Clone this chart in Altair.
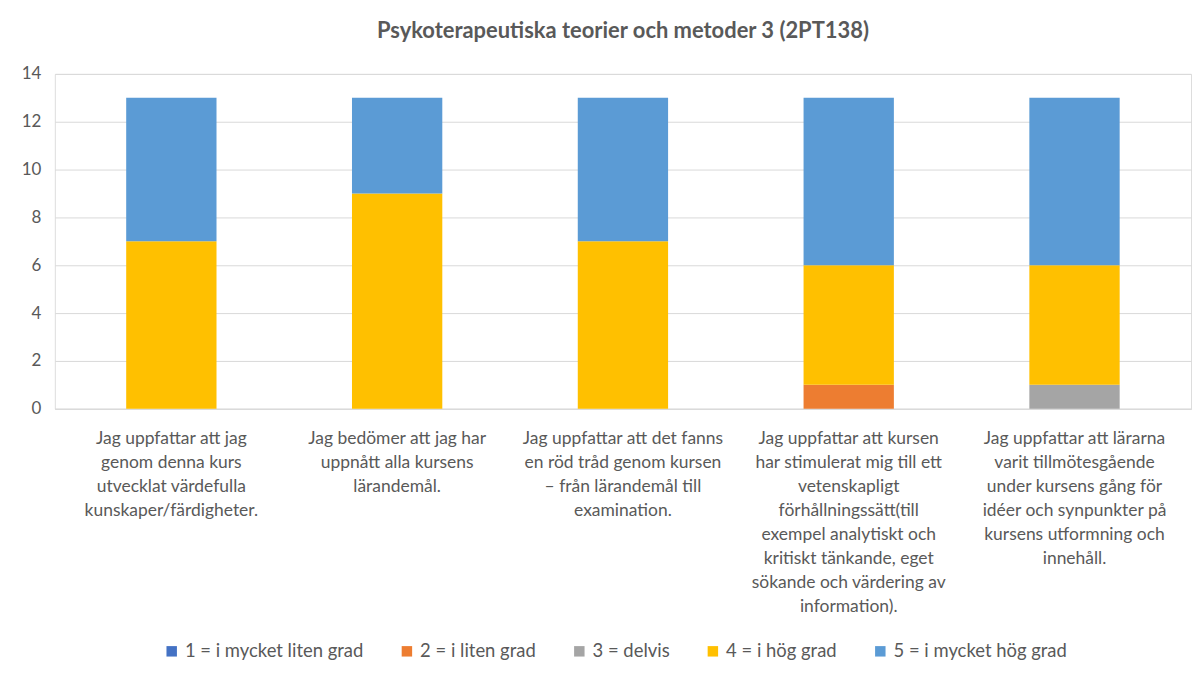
import altair as alt
import pandas as pd

categories = [
    "Jag uppfattar att jag|genom denna kurs|utvecklat värdefulla|kunskaper/färdigheter.",
    "Jag bedömer att jag har|uppnått alla kursens|lärandemål.",
    "Jag uppfattar att det fanns|en röd tråd genom kursen|– från lärandemål till|examination.",
    "Jag uppfattar att kursen|har stimulerat mig till ett|vetenskapligt|förhållningssätt(till|exempel analytiskt och|kritiskt tänkande, eget|sökande och värdering av|information).",
    "Jag uppfattar att lärarna|varit tillmötesgående|under kursens gång för|idéer och synpunkter på|kursens utformning och|innehåll.",
]
series_names = [
    "1 = i mycket liten grad",
    "2 = i liten grad",
    "3 = delvis",
    "4 = i hög grad",
    "5 = i mycket hög grad",
]
s1 = [0, 0, 0, 0, 0]
s2 = [0, 0, 0, 1, 0]
s3 = [0, 0, 0, 0, 1]
s4 = [7, 9, 7, 5, 5]
s5 = [6, 4, 6, 7, 7]
colors = ["#4472C4", "#ED7D31", "#A5A5A5", "#FFC000", "#5B9BD5"]

rows = []
for si, (name, vals) in enumerate(zip(series_names, [s1, s2, s3, s4, s5])):
    for c, v in zip(categories, vals):
        rows.append({"kategori": c, "serie": name, "ordning": si, "antal": v})
df = pd.DataFrame(rows)

FONT = "Lato"
GREY = "#595959"

chart = alt.Chart(df).mark_bar().encode(
    x=alt.X(
        "kategori:N",
        sort=categories,
        title=None,
        scale=alt.Scale(paddingInner=0.6, paddingOuter=0.316),
        axis=alt.Axis(
            labelAngle=0,
            labelAlign="center",
            labelBaseline="top",
            labelExpr="split(datum.label, '|')",
            labelLimit=300,
            labelOverlap=False,
            labelPadding=21,
            labelLineHeight=24,
            labelFontSize=17.5,
            labelFont=FONT,
            labelColor=GREY,
            ticks=False,
            domainColor="#D9D9D9",
            grid=False,
        ),
    ),
    y=alt.Y(
        "antal:Q",
        stack="zero",
        title=None,
        scale=alt.Scale(domain=[0, 14], nice=False),
        axis=alt.Axis(
            values=[0, 2, 4, 6, 8, 10, 12, 14],
            domain=False,
            ticks=False,
            gridColor="#D9D9D9",
            labelFont=FONT,
            labelFontSize=17,
            labelColor=GREY,
            labelPadding=14,
        ),
    ),
    color=alt.Color(
        "serie:N",
        scale=alt.Scale(domain=series_names, range=colors),
        sort=series_names,
        legend=alt.Legend(
            title=None,
            orient="none",
            legendX=108,
            legendY=570,
            direction="horizontal",
            symbolType="square",
            symbolSize=110,
            symbolStrokeWidth=0,
            labelFont=FONT,
            labelFontSize=18.5,
            labelColor=GREY,
            labelLimit=400,
            columnPadding=34,
        ),
    ),
    order=alt.Order("ordning:Q", sort="ascending"),
).properties(
    width=1140,
    height=336,
    padding={"left": 47, "top": 65, "right": 5, "bottom": 264},
    autosize=alt.AutoSizeParams(type="none"),
    title=alt.TitleParams(
        "Psykoterapeutiska teorier och metoder 3 (2PT138)",
        font=FONT,
        fontSize=22,
        fontWeight="bold",
        color=GREY,
        anchor="middle",
        offset=22,
    ),
).configure_view(stroke=None).configure(background="white")

chart.save("out.html", embed_options={"renderer": "svg", "actions": False})
